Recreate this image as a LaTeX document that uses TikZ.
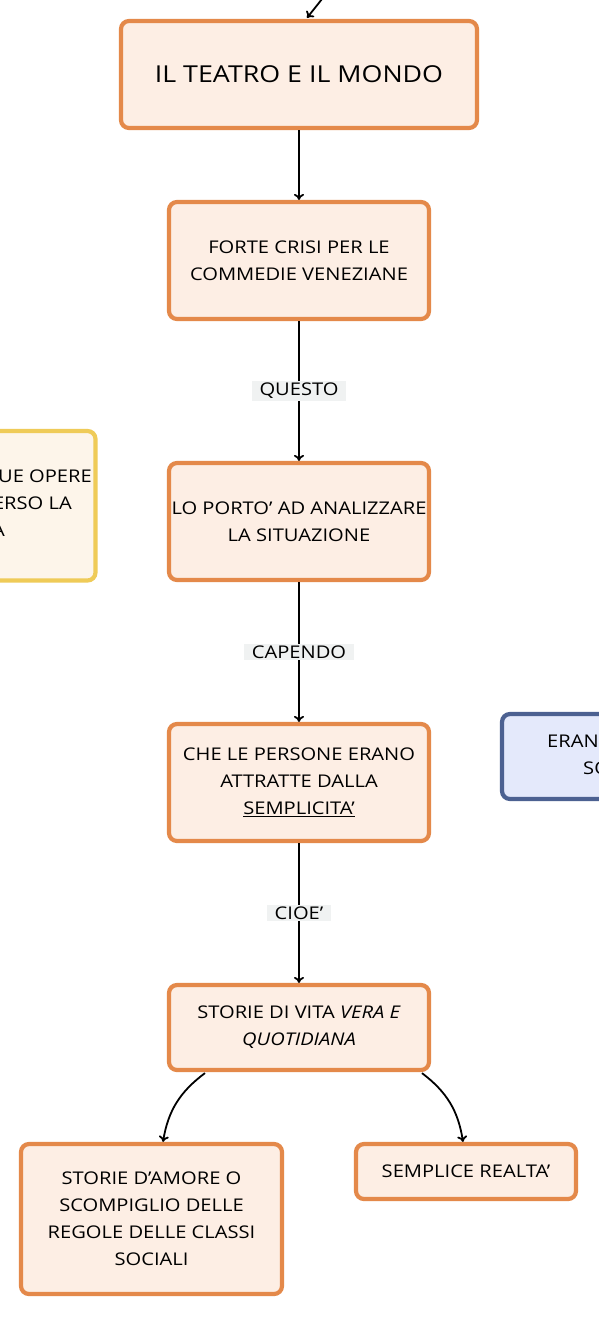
\documentclass[tikz,border=0pt]{standalone}
\usepackage{fontspec}
\setmainfont{Open Sans}[FakeStretch=1.15]
\usetikzlibrary{arrows.meta}
\definecolor{oB}{HTML}{E4894A}
\definecolor{oF}{HTML}{FDEEE4}
\definecolor{yB}{HTML}{EFCB58}
\definecolor{yF}{HTML}{FDF5EA}
\definecolor{bB}{HTML}{4C6191}
\definecolor{bF}{HTML}{E4E9FB}
\definecolor{lG}{HTML}{F0F2F2}
\begin{document}
\begin{tikzpicture}[x=1pt,y=1pt,
  obox/.style={draw=oB, fill=oF, line width=4.2pt, rounded corners=8pt, align=center, inner sep=0pt, font=\fontsize{17.5}{27}\selectfont},
  sbox/.style={line width=4.2pt, rounded corners=8pt},
  lbl/.style={fill=lG, inner xsep=8pt, inner ysep=2pt, font=\fontsize{17.5}{19}\selectfont},
  side/.style={font=\fontsize{17.5}{19}\selectfont, inner sep=0pt},
  arr/.style={line width=1.8pt, -{To[length=6pt,width=10pt]}}]
\clip (0,0) rectangle (599,-1317);
\fill[white] (0,0) rectangle (599,-1317);

% side boxes (clipped at the picture's edge)
\draw[sbox, draw=yB, fill=yF] (-170,-431) rectangle (95.5,-580.5);
\node[side, anchor=base east] (y1) at (92,-482) {SUE OPERE};
\node[side, anchor=base east] (y2) at (72,-509) {VERSO LA};
\node[side, anchor=base east] (y3) at (5,-536) {A};
\draw[sbox, draw=bB, fill=bF] (502,-714) rectangle (780,-799);
\node[side, anchor=base west] (z1) at (547,-747) {ERANO};
\node[side, anchor=base west] (z2) at (583,-774) {SO};

% main boxes
\node[obox, minimum width=356pt, minimum height=107pt, font=\fontsize{23.3}{26}\selectfont] (b1) at (299,-74.5) {IL TEATRO E IL MONDO};
\node[obox, minimum width=260pt, minimum height=117pt] (b2) at (299,-260.5) {FORTE CRISI PER LE\\COMMEDIE VENEZIANE};
\node[obox, minimum width=260pt, minimum height=117pt] (b3) at (299,-521.5) {LO PORTO' AD ANALIZZARE\\LA SITUAZIONE};
\node[obox, minimum width=260pt, minimum height=117pt] (b4) at (299,-782.5) {CHE LE PERSONE ERANO\\ATTRATTE DALLA\\\underline{SEMPLICITA'}};
\node[obox, minimum width=260pt, minimum height=85pt] (b5) at (299,-1027.5) {STORIE DI VITA \textit{VERA E}\\\textit{QUOTIDIANA}};
\node[obox, minimum width=261pt, minimum height=150pt] (b6) at (151.5,-1219) {STORIE D'AMORE O\\SCOMPIGLIO DELLE\\REGOLE DELLE CLASSI\\SOCIALI};
\node[obox, minimum width=220pt, minimum height=55pt] (b7) at (466,-1171.5) {SEMPLICE REALTA'};

% connectors
\coordinate (in) at (326,6);
\draw[arr] (in) -- ([xshift=8pt,yshift=1pt]b1.north);
\draw[arr] (b1.south) -- (b2.north);
\draw[arr] (b2.south) -- node[lbl] (l1) {QUESTO} (b3.north);
\draw[arr] (b3.south) -- node[lbl] (l2) {CAPENDO} (b4.north);
\draw[arr] (b4.south) -- node[lbl] (l3) {CIOE'} (b5.north);
\draw[arr] ([xshift=-94pt,yshift=-1pt]b5.south) to[bend right=22] ([xshift=11.5pt]b6.north);
\draw[arr] ([xshift=123pt,yshift=-1pt]b5.south) to[bend left=22] ([xshift=-3pt]b7.north);
\end{tikzpicture}
\end{document}
